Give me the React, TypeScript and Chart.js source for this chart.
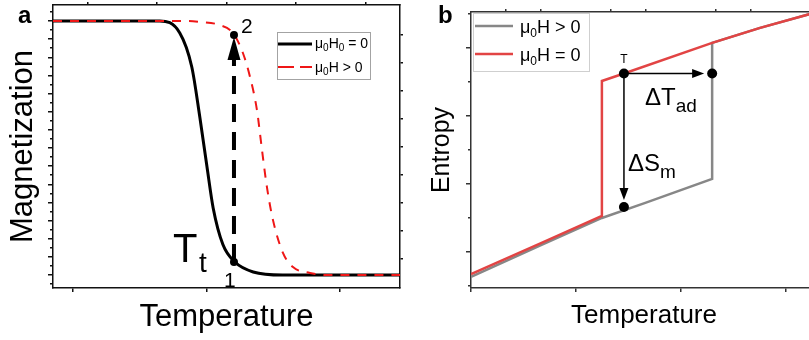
import React, { useEffect, useRef } from 'react';
import { Chart, registerables } from 'chart.js';

Chart.register(...registerables);

const FONT = "'Liberation Sans', Arial, Helvetica, sans-serif";

// ================= Panel a : Magnetization vs Temperature =================
const tempZeroFieldA = [0, 80, 95, 104, 110, 115.4, 120, 127.3, 136.3, 150, 172, 260];
const magZeroFieldA = [1, 1, 0.953, 0.819, 0.622, 0.425, 0.264, 0.12, 0.051, 0.012, 0, 0];
const tempFieldA = [0, 100, 110, 125, 134.8, 142.3, 147.6, 152.8, 156.6, 160.3, 164.8, 172.3, 179.8, 192.5, 205, 260];
const magFieldA = [1, 1, 0.996, 0.984, 0.953, 0.874, 0.78, 0.65, 0.492, 0.346, 0.217, 0.087, 0.031, 0.008, 0, 0];
// transition points 1 and 2
const pointTempA = [135.6, 135.6];
const pointMagA = [0.051, 0.945];
const pointLabelsA = ['1', '2'];
// dashed arrow from point 1 up to the arrow head
const arrowTempA = [135.6, 135.6];
const arrowMagA = [0.051, 0.846];
const arrowTipMagA = 0.937;
const xTicksA = [15, 115, 215];
const xTopTicksA = [26, 78, 130, 182, 234];
const yMajorTicksA = [0, 0.0714, 0.1429, 0.2143, 0.2857, 0.3571, 0.4286, 0.5, 0.5714, 0.6429, 0.7143, 0.7857, 0.8571, 0.9286, 1];
const yMinorTicksA = [-0.0357, 0.0357, 0.1071, 0.1786, 0.25, 0.3214, 0.3929, 0.4643, 0.5357, 0.6071, 0.6786, 0.75, 0.8214, 0.8929, 0.9643, 1.0357];
const yRightTicksA = [0.063, 0.173, 0.283, 0.394, 0.504, 0.614, 0.724, 0.835, 0.945];

// ================= Panel b : Entropy vs Temperature =================
const tempFieldB = [0, 20, 37.4, 50, 68.9, 68.9, 82.6, 96.6, 100];
const entFieldB = [0.27, 1.2, 2.0, 2.45, 3.15, 7.15, 7.59, 7.99, 8.08];
const tempZeroFieldB = [0, 20, 37.4, 37.4, 43.7, 68.9, 82.6, 96.6, 100];
const entZeroFieldB = [0.35, 1.26, 2.06, 6.03, 6.25, 7.15, 7.59, 7.99, 8.08];
// dots: T (start), end of ΔTad, end of ΔSm
const dotTempB = [43.7, 68.9, 43.7];
const dotEntB = [6.25, 6.25, 2.32];
const xTicksB = [0, 30, 60, 90];
const xTopTicksB = [10, 20, 40, 50, 70, 80];
const yMajorTicksB = [1, 3, 5, 7];
const yMinorTicksB = [0, 2, 4, 6, 8];

const RED_A = '#ef1616';
const RED_B = '#e24444';
const GRAY_B = '#878787';

type Part = { t: string; sub?: boolean };

function drawRich(ctx: CanvasRenderingContext2D, parts: Part[], x: number, y: number, size: number, subSize: number, subDy: number, color = '#000') {
  let cx = x;
  ctx.fillStyle = color;
  ctx.textAlign = 'left';
  ctx.textBaseline = 'alphabetic';
  for (const p of parts) {
    ctx.font = `${p.sub ? subSize : size}px ${FONT}`;
    ctx.fillText(p.t, cx, p.sub ? y + subDy : y);
    cx += ctx.measureText(p.t).width;
  }
  return cx;
}

function pts(xs: number[], ys: number[]) {
  return xs.map((x, i) => ({ x, y: ys[i] }));
}

function frameScale(o: {
  axis: 'x' | 'y'; position: string; min: number; max: number; ticks: number[];
  len: number; size: number; weight?: number; border?: boolean; color: string; width: number; title?: any;
}) {
  return {
    type: 'linear',
    axis: o.axis,
    position: o.position,
    min: o.min,
    max: o.max,
    weight: o.weight ?? 0,
    display: true,
    afterBuildTicks: (s: any) => { s.ticks = o.ticks.map((v) => ({ value: v })); },
    afterFit: (s: any) => { if (o.axis === 'x') s.height = o.size; else s.width = o.size; },
    ticks: { display: false },
    grid: { display: true, drawOnChartArea: false, drawTicks: true, tickLength: o.len, tickColor: o.color, tickWidth: o.width, lineWidth: o.width, color: o.color },
    border: { display: o.border !== false, color: o.color, width: o.width },
    title: o.title ?? { display: false },
  };
}

function arrowHead(ctx: CanvasRenderingContext2D, tx: number, ty: number, dx: number, dy: number, len: number, half: number) {
  const bx = tx - dx * len, by = ty - dy * len;
  const nx = -dy, ny = dx;
  ctx.beginPath();
  ctx.moveTo(tx, ty);
  ctx.lineTo(bx + nx * half, by + ny * half);
  ctx.lineTo(bx - nx * half, by - ny * half);
  ctx.closePath();
  ctx.fill();
}

function configA(): any {
  const AX = '#111';
  const annot = {
    id: 'annotA',
    afterDatasetsDraw(chart: any) {
      const { ctx, scales } = chart;
      const x = scales.x, y = scales.y;
      const px = x.getPixelForValue(arrowTempA[1]);
      ctx.save();
      ctx.fillStyle = '#000';
      const tip = y.getPixelForValue(arrowTipMagA);
      const base = y.getPixelForValue(arrowMagA[1]);
      arrowHead(ctx, px, tip, 0, -1, base - tip, 6.5);
      // point labels
      const p1x = x.getPixelForValue(pointTempA[0]);
      const p1y = y.getPixelForValue(pointMagA[0]);
      const p2x = x.getPixelForValue(pointTempA[1]);
      const p2y = y.getPixelForValue(pointMagA[1]);
      ctx.font = `21px ${FONT}`;
      ctx.textAlign = 'left';
      ctx.textBaseline = 'alphabetic';
      ctx.fillText(pointLabelsA[0], p1x - 10, p1y + 25);
      ctx.fillText(pointLabelsA[1], p2x + 7, p2y - 2);
      // T_t
      ctx.font = `40px ${FONT}`;
      ctx.fillText('T', p1x - 61, p1y);
      ctx.font = `28px ${FONT}`;
      ctx.fillText('t', p1x - 35, p1y + 10);
      ctx.restore();
    },
    afterDraw(chart: any) {
      const { ctx } = chart;
      ctx.save();
      // panel letter
      ctx.font = `bold 24px ${FONT}`;
      ctx.fillStyle = '#000';
      ctx.textAlign = 'left';
      ctx.textBaseline = 'alphabetic';
      ctx.fillText('a', 18, 23);
      // legend
      ctx.fillStyle = '#fff';
      ctx.fillRect(277.5, 32.5, 93, 47);
      ctx.strokeStyle = '#a3a3a3';
      ctx.lineWidth = 1;
      ctx.strokeRect(277.5, 32.5, 93, 47);
      ctx.strokeStyle = '#000';
      ctx.lineWidth = 3;
      ctx.beginPath(); ctx.moveTo(278, 44); ctx.lineTo(312, 44); ctx.stroke();
      ctx.strokeStyle = RED_A;
      ctx.lineWidth = 2;
      ctx.setLineDash([16, 6]);
      ctx.beginPath(); ctx.moveTo(278, 67); ctx.lineTo(312, 67); ctx.stroke();
      ctx.setLineDash([]);
      drawRich(ctx, [{ t: 'μ' }, { t: '0', sub: true }, { t: 'H' }, { t: '0', sub: true }, { t: ' = 0' }], 315, 48, 14, 10, 3);
      drawRich(ctx, [{ t: 'μ' }, { t: '0', sub: true }, { t: 'H > 0' }], 315, 72, 14, 10, 3);
      ctx.restore();
    },
  };
  const yMin = -0.0512, yMax = 1.063, xMin = 0, xMax = 260;
  return {
    type: 'scatter',
    data: {
      datasets: [
        { label: 'points', data: pts(pointTempA, pointMagA), showLine: false, pointRadius: 4, pointBackgroundColor: '#000', pointBorderColor: '#000', pointBorderWidth: 0, order: 0 },
        { label: 'arrow', data: pts(arrowTempA, arrowMagA), showLine: true, borderColor: '#000', borderWidth: 4, borderDash: [18, 10], borderCapStyle: 'butt', pointRadius: 0, order: 1 },
        { label: 'μ0H > 0', data: pts(tempFieldA, magFieldA), showLine: true, borderColor: RED_A, borderWidth: 2, borderDash: [9, 8], pointRadius: 0, cubicInterpolationMode: 'monotone', order: 2 },
        { label: 'μ0H0 = 0', data: pts(tempZeroFieldA, magZeroFieldA), showLine: true, borderColor: '#000', borderWidth: 3, pointRadius: 0, cubicInterpolationMode: 'monotone', order: 3 },
      ],
    },
    options: {
      responsive: false,
      animation: false,
      devicePixelRatio: 1,
      events: [],
      layout: { padding: 0 },
      plugins: { legend: { display: false }, tooltip: { enabled: false }, title: { display: false } },
      scales: {
        x: frameScale({ axis: 'x', position: 'bottom', min: xMin, max: xMax, ticks: xTicksA, len: 4, size: 52, color: AX, width: 1.5,
          title: { display: true, text: 'Temperature', color: '#000', font: { size: 31, family: FONT }, padding: { top: 0, bottom: 4 } } }),
        xTop: frameScale({ axis: 'x', position: 'top', min: xMin, max: xMax, ticks: xTopTicksA, len: 3, size: 5, color: AX, width: 1.5 }),
        y: frameScale({ axis: 'y', position: 'left', min: yMin, max: yMax, ticks: yMajorTicksA, len: 5, size: 53, weight: 1, color: AX, width: 1.5,
          title: { display: true, text: 'Magnetization', color: '#000', font: { size: 31, family: FONT }, padding: { top: 5, bottom: 0 } } }),
        yMinor: frameScale({ axis: 'y', position: 'left', min: yMin, max: yMax, ticks: yMinorTicksA, len: 3, size: 0, weight: 0, border: false, color: AX, width: 1.5 }),
        y2: frameScale({ axis: 'y', position: 'right', min: yMin, max: yMax, ticks: yRightTicksA, len: 3, size: 5, color: AX, width: 1.5 }),
      },
    },
    plugins: [annot],
  };
}

function configB(): any {
  const AX = '#333';
  const annot = {
    id: 'annotB',
    afterDatasetsDraw(chart: any) {
      const { ctx, scales } = chart;
      const x = scales.x, y = scales.y;
      const tX = x.getPixelForValue(dotTempB[0]);
      const tY = y.getPixelForValue(dotEntB[0]);
      const rX = x.getPixelForValue(dotTempB[1]);
      const lY = y.getPixelForValue(dotEntB[2]);
      ctx.save();
      ctx.strokeStyle = '#000';
      ctx.fillStyle = '#000';
      ctx.lineWidth = 1.5;
      // horizontal arrow (ΔTad)
      const hTip = rX - 8;
      ctx.beginPath(); ctx.moveTo(tX, tY); ctx.lineTo(hTip - 10, tY); ctx.stroke();
      arrowHead(ctx, hTip, tY, 1, 0, 12, 4.5);
      // vertical arrow (ΔSm)
      const vTip = lY - 7;
      ctx.beginPath(); ctx.moveTo(tX, tY); ctx.lineTo(tX, vTip - 10); ctx.stroke();
      arrowHead(ctx, tX, vTip, 0, 1, 12, 4.5);
      // labels
      ctx.font = `12px ${FONT}`;
      ctx.textAlign = 'center';
      ctx.textBaseline = 'alphabetic';
      ctx.fillText('T', tX, tY - 10);
      drawRich(ctx, [{ t: 'ΔT' }, { t: 'ad', sub: true }], tX + 21, tY + 32, 24, 19, 7);
      drawRich(ctx, [{ t: 'ΔS' }, { t: 'm', sub: true }], tX + 4, lY - 36, 24, 19, 7);
      ctx.restore();
    },
    afterDraw(chart: any) {
      const { ctx } = chart;
      ctx.save();
      ctx.font = `bold 24px ${FONT}`;
      ctx.fillStyle = '#000';
      ctx.textAlign = 'left';
      ctx.textBaseline = 'alphabetic';
      ctx.fillText('b', 33, 23);
      // legend
      ctx.fillStyle = 'rgba(255,255,255,0.95)';
      ctx.fillRect(68.5, 13.5, 116, 58);
      ctx.strokeStyle = '#cfcfcf';
      ctx.lineWidth = 1;
      ctx.strokeRect(68.5, 13.5, 116, 58);
      ctx.lineWidth = 2.5;
      ctx.strokeStyle = GRAY_B;
      ctx.beginPath(); ctx.moveTo(70, 26); ctx.lineTo(108, 26); ctx.stroke();
      ctx.strokeStyle = RED_B;
      ctx.beginPath(); ctx.moveTo(70, 54); ctx.lineTo(108, 54); ctx.stroke();
      drawRich(ctx, [{ t: 'μ' }, { t: '0', sub: true }, { t: 'H > 0' }], 115, 33, 18, 12, 4);
      drawRich(ctx, [{ t: 'μ' }, { t: '0', sub: true }, { t: 'H = 0' }], 115, 61, 18, 12, 4);
      ctx.restore();
    },
  };
  const yMin = -0.06, yMax = 8.058, xMin = 0, xMax = 98.86;
  return {
    type: 'scatter',
    data: {
      datasets: [
        { label: 'dots', data: pts(dotTempB, dotEntB), showLine: false, pointRadius: 5, pointBackgroundColor: '#000', pointBorderColor: '#000', pointBorderWidth: 0, order: 0 },
        { label: 'μ0H = 0', data: pts(tempZeroFieldB, entZeroFieldB), showLine: true, borderColor: RED_B, borderWidth: 2.5, pointRadius: 0, tension: 0, order: 1 },
        { label: 'μ0H > 0', data: pts(tempFieldB, entFieldB), showLine: true, borderColor: GRAY_B, borderWidth: 2.5, pointRadius: 0, tension: 0, order: 2 },
      ],
    },
    options: {
      responsive: false,
      animation: false,
      devicePixelRatio: 1,
      events: [],
      layout: { padding: { left: 0, top: 0, bottom: 0, right: 18 } },
      plugins: { legend: { display: false }, tooltip: { enabled: false }, title: { display: false } },
      scales: {
        x: frameScale({ axis: 'x', position: 'bottom', min: xMin, max: xMax, ticks: xTicksB, len: 4, size: 52, color: AX, width: 1.5,
          title: { display: true, text: 'Temperature', color: '#000', font: { size: 26, family: FONT }, padding: { top: 0, bottom: 9 } } }),
        xTop: frameScale({ axis: 'x', position: 'top', min: xMin, max: xMax, ticks: xTopTicksB, len: 3, size: 12, color: AX, width: 1.5 }),
        y: frameScale({ axis: 'y', position: 'left', min: yMin, max: yMax, ticks: yMajorTicksB, len: 5, size: 66, weight: 1, color: AX, width: 1.5,
          title: { display: true, text: 'Entropy', color: '#000', font: { size: 25, family: FONT }, padding: { top: 22, bottom: 0 } } }),
        yMinor: frameScale({ axis: 'y', position: 'left', min: yMin, max: yMax, ticks: yMinorTicksB, len: 3, size: 0, weight: 0, border: false, color: AX, width: 1.5 }),
      },
    },
    plugins: [annot],
  };
}

export default function App() {
  const refA = useRef<HTMLCanvasElement>(null);
  const refB = useRef<HTMLCanvasElement>(null);
  useEffect(() => {
    Chart.defaults.font.family = FONT;
    Chart.defaults.color = '#000';
    const a = new Chart(refA.current as HTMLCanvasElement, configA());
    const b = new Chart(refB.current as HTMLCanvasElement, configB());
    return () => { a.destroy(); b.destroy(); };
  }, []);
  return (
    <div style={{ position: 'fixed', left: 0, top: 0, width: 809, height: 340, overflow: 'hidden', background: '#fff' }}>
      <canvas ref={refA} width={405} height={340} style={{ position: 'absolute', left: 0, top: 0, width: 405, height: 340 }} />
      <canvas ref={refB} width={430} height={340} style={{ position: 'absolute', left: 405, top: 0, width: 430, height: 340 }} />
    </div>
  );
}
